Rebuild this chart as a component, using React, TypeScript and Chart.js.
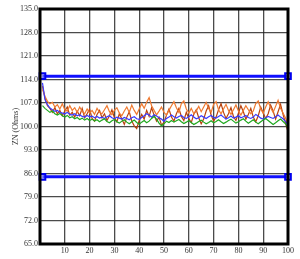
import React, { useEffect, useRef } from "react";
import { Chart, registerables } from "chart.js";

Chart.register(...registerables);

const yTicks = [65, 72, 79, 86, 93, 100, 107, 114, 121, 128, 135];
const xTicks = [10, 20, 30, 40, 50, 60, 70, 80, 90, 100];
const upperLimit = 115;
const lowerLimit = 85;

const blueSeries = [113, 108, 106.5, 105.5, 105, 104.5, 104.8, 104.2, 104, 103.8, 104.2, 103.6, 103.4, 103.8, 103.2, 103.5, 103, 102.8, 103.3, 102.9, 103.1, 102.6, 103, 102.5, 102.8, 102.4, 102.9, 103.2, 102.6, 102.3, 102.8, 102.5, 102.2, 102.7, 102.4, 102, 102.6, 102.9, 102.3, 102.1, 102.7, 103.2, 103.8, 103.4, 102.8, 103.5, 103.1, 102.6, 102.2, 101.5, 102.4, 102.8, 103.4, 102.9, 102.5, 103, 103.3, 102.7, 102.4, 102.9, 103.5, 102.8, 102.3, 102.6, 103.2, 102.8, 102.4, 102.9, 103.3, 102.7, 102.5, 103, 103.4, 102.8, 102.2, 102.6, 103.1, 102.5, 102.8, 103.2, 102.6, 102.9, 103.3, 102.7, 102.4, 102.8, 103.6, 103.1, 102.5, 102.2, 102.6, 103, 102.7, 102.4, 102.9, 103.4, 102.8, 102.3, 101.5, 100.5];

const orangeSeries = [111, 109, 107.5, 106.8, 107.2, 105.8, 106.5, 105.2, 106.8, 105, 104.6, 106.2, 104.8, 105.6, 104.2, 105.8, 104.5, 103.8, 105.2, 104, 104.8, 103.6, 105.4, 104.2, 103.8, 105, 106.2, 104.4, 103.5, 104.8, 105.6, 104, 103.2, 104.6, 105.8, 104.2, 106.4, 104.8, 103.6, 105.2, 106.8, 105.4, 107.2, 108.6, 106.2, 104.8, 103.5, 104.6, 105.8, 104.2, 103.4, 104.8, 106.2, 107.4, 105.6, 104.2, 106.8, 107.6, 105.2, 104, 105.4, 103.8, 104.6, 106, 104.4, 105.8, 107.2, 105.4, 104.2, 106.6, 107.4, 105, 103.8, 105.2, 106.6, 104.8, 103.6, 105, 106.4, 104.6, 103.4, 104.8, 106.2, 105, 103.8, 104.6, 106.8, 107.6, 105.2, 104, 105.8, 107.4, 105.6, 104.2, 106, 107.8, 105.4, 104, 102.5, 100.5];

const darkSeries = [112, 108.5, 106.2, 105.4, 104.2, 105.6, 103.8, 104.8, 103.2, 104.6, 105.8, 103.4, 104.2, 102.8, 104.6, 103.2, 105.4, 102.6, 103.8, 105.2, 102.4, 101.6, 103.6, 104.8, 102.6, 103.8, 101.8, 103.2, 105, 102.6, 101.4, 103.8, 102.2, 100.6, 102.8, 104.4, 101.6, 100.2, 99.4, 101.8, 103.6, 102.2, 104.8, 103, 105.6, 103.4, 101.6, 102.8, 100.4, 101.2, 103.4, 105.2, 102.8, 101.6, 103.8, 105.4, 103, 101.8, 104.2, 102.4, 101.2, 103.6, 105, 102.6, 100.8, 102.2, 104.6, 106.2, 103.4, 101.6, 102.8, 105, 106.8, 104.2, 102.4, 103.8, 105.6, 103, 101.8, 104, 106.2, 104.4, 102.2, 103.6, 105.4, 102.8, 101.4, 103.2, 105.8, 104, 102.4, 103.8, 106.4, 104.6, 102.2, 104.4, 106.6, 103.6, 101, 98.5];

const greenSeries = [106.2, 105.4, 104.8, 104.2, 104.6, 103.8, 103.4, 103.9, 103.2, 102.8, 103.3, 102.6, 102.9, 102.3, 102.7, 102.1, 102.5, 101.9, 102.4, 101.8, 102.2, 101.6, 102, 101.4, 101.9, 102.3, 101.5, 101.1, 101.7, 102.1, 101.4, 101, 101.6, 102, 101.3, 100.8, 101.4, 101.9, 101.2, 100.7, 101.3, 101.8, 101.1, 101.6, 102.4, 103, 102.2, 101, 100.2, 100.8, 101.6, 101.2, 101.8, 101.3, 101.7, 102.1, 101.4, 100.9, 101.3, 101.8, 101.2, 100.6, 101, 101.5, 101.9, 101.3, 100.8, 101.2, 101.7, 101.1, 101.5, 102, 101.4, 100.9, 101.3, 101.8, 102.2, 101.6, 101, 101.4, 101.9, 102.3, 101.6, 101, 101.5, 102, 101.3, 100.8, 101.4, 101.9, 102.4, 101.8, 101.2, 100.6, 101.1, 101.7, 102.2, 101.5, 100.8, 99.5];

const toPoints = (vals: number[]) => vals.map((y, i) => ({ x: i + 1, y }));

const borderPlugin = {
  id: "frameBorder",
  afterDatasetsDraw(chart: any) {
    const { ctx, chartArea } = chart;
    ctx.save();
    ctx.strokeStyle = "#000";
    ctx.lineWidth = 3;
    ctx.strokeRect(chartArea.left, chartArea.top, chartArea.right - chartArea.left, chartArea.bottom - chartArea.top);
    ctx.restore();
  },
};

export default function App() {
  const ref = useRef<HTMLCanvasElement | null>(null);
  useEffect(() => {
    document.body.style.margin = "0";
    const font = { family: "'Liberation Serif', 'DejaVu Serif', serif", size: 8 };
    const limitDs = (v: number) => ({
      data: [{ x: 1, y: v }, { x: 100, y: v }],
      borderColor: "#1010ff",
      backgroundColor: "rgba(120,120,255,0.6)",
      borderWidth: 3,
      pointStyle: "rect",
      pointRadius: 4,
      pointBorderWidth: 2,
      pointBorderColor: "#0000ee",
      clip: false,
      order: 0,
    });
    const lineDs = (vals: number[], color: string, width = 1.2) => ({
      data: toPoints(vals),
      borderColor: color,
      borderWidth: width,
      pointRadius: 0,
      tension: 0,
      order: 1,
    });
    const chart = new Chart(ref.current!, {
      type: "line",
      data: {
        datasets: [
          limitDs(upperLimit) as any,
          limitDs(lowerLimit) as any,
          lineDs(greenSeries, "#1fa81f"),
          lineDs(blueSeries, "#3a3aff"),
          lineDs(orangeSeries, "#f07a30"),
          lineDs(darkSeries, "#b8420e"),
        ],
      },
      options: {
        animation: false,
        responsive: false,
        plugins: { legend: { display: false }, tooltip: { enabled: false } },
        layout: { padding: { top: 9, right: 12, left: 11, bottom: 0 } },
        scales: {
          x: {
            type: "linear",
            min: 0,
            max: 100,
            afterBuildTicks: (s: any) => {
              s.ticks = xTicks.map((v) => ({ value: v }));
            },
            afterFit: (s: any) => {
              s.height = 15;
            },
            ticks: { font, color: "#333", padding: 2, maxRotation: 0, callback: (v: any) => String(v) },
            grid: { color: "rgba(30,30,30,0.8)", lineWidth: 1.3, drawTicks: false },
            border: { display: false },
          },
          y: {
            min: 65,
            max: 135,
            afterBuildTicks: (s: any) => {
              s.ticks = yTicks.map((v) => ({ value: v }));
            },
            afterFit: (s: any) => {
              s.width = 29;
            },
            ticks: { font, color: "#333", padding: 2, callback: (v: any) => Number(v).toFixed(1) },
            grid: { color: "rgba(30,30,30,0.8)", lineWidth: 1.3, drawTicks: false },
            border: { display: false },
            title: { display: true, text: "ZN (Ohms)", font, color: "#333", padding: 0 },
          },
        },
      },
      plugins: [borderPlugin],
    } as any);
    return () => chart.destroy();
  }, []);
  return (
    <div style={{ width: 300, height: 259 }}>
      <canvas ref={ref} width={300} height={259} style={{ display: "block", background: "#fff" }} />
    </div>
  );
}
